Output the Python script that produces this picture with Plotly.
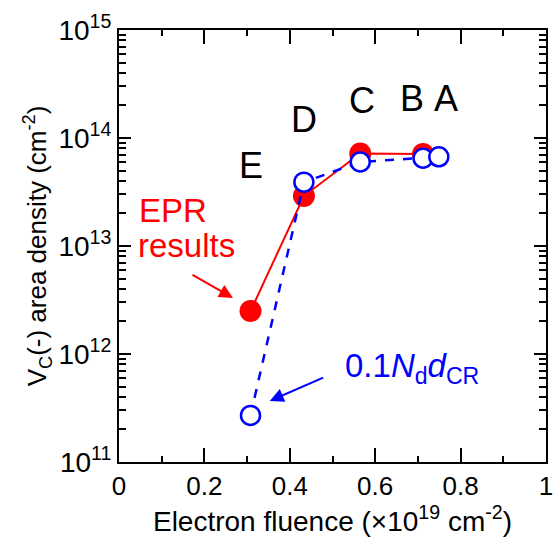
import plotly.graph_objects as go

# Data
epr_x = [0.308, 0.433, 0.565, 0.712]
epr_y = [2.5e12, 2.9e13, 7.2e13, 7.1e13]

calc_x = [0.308, 0.433, 0.565, 0.712, 0.749]
calc_y = [2.7e11, 3.9e13, 6.0e13, 6.5e13, 6.7e13]

point_labels = ["E", "D", "C", "B", "A"]
label_x = [0.309, 0.433, 0.569, 0.687, 0.765]
label_logy = [13.75, 14.17, 14.35, 14.37, 14.37]

x_tickvals = [0, 0.2, 0.4, 0.6, 0.8, 1.0]
x_ticktext = ["0", "0.2", "0.4", "0.6", "0.8", "1"]
y_tickvals = [1e11, 1e12, 1e13, 1e14, 1e15]
y_ticktext = ["10<sup>11</sup>", "10<sup>12</sup>", "10<sup>13</sup>", "10<sup>14</sup>", "10<sup>15</sup>"]
y_minor = [m * 10 ** e for e in range(11, 15) for m in range(2, 10)]

FONT = "Arial, Liberation Sans, sans-serif"
RED = "#ff0000"
BLUE = "#0000ff"

fig = go.Figure()
fig.add_trace(go.Scatter(
    x=epr_x, y=epr_y, mode="lines+markers",
    line=dict(color=RED, width=2),
    marker=dict(size=22, color=RED, line=dict(width=0)),
    showlegend=False, cliponaxis=False))
fig.add_trace(go.Scatter(
    x=calc_x, y=calc_y, mode="lines+markers",
    line=dict(color=BLUE, width=2.5, dash="dash"),
    marker=dict(size=19, color="white", line=dict(color=BLUE, width=2.5)),
    showlegend=False, cliponaxis=False))

annotations = []
for t, lx, ly in zip(point_labels, label_x, label_logy):
    annotations.append(dict(x=lx, y=ly, xref="x", yref="y", text=t, showarrow=False,
                            font=dict(family=FONT, size=36, color="black"),
                            xanchor="center", yanchor="middle"))

annotations += [
    dict(x=0.041, y=15 - (210 - 30) / 108, xref="x", yref="y", text="EPR", showarrow=False,
         font=dict(family=FONT, size=33, color=RED), xanchor="left", yanchor="middle"),
    dict(x=0.039, y=15 - (245 - 30) / 108, xref="x", yref="y", text="results", showarrow=False,
         font=dict(family=FONT, size=33, color=RED), xanchor="left", yanchor="middle"),
    dict(x=0.267, y=12.519, xref="x", yref="y", ax=-42, ay=-24, text="", showarrow=True,
         arrowhead=2, arrowsize=1.4, arrowwidth=2, arrowcolor=RED),
    dict(x=0.525, y=11.87, xref="x", yref="y",
         text="0.1<i>N</i><sub>d</sub><i>d</i><sub>CR</sub>", showarrow=False,
         font=dict(family=FONT, size=33, color=BLUE), xanchor="left", yanchor="middle"),
    dict(x=0.353, y=11.565, xref="x", yref="y", ax=55, ay=-24, text="", showarrow=True,
         arrowhead=2, arrowsize=1.4, arrowwidth=2, arrowcolor=BLUE),
]

fig.update_layout(
    width=555, height=541,
    margin=dict(l=119, r=2, t=30, b=79),
    paper_bgcolor="white", plot_bgcolor="white",
    font=dict(family=FONT, color="black", size=26),
    annotations=annotations,
    xaxis=dict(
        range=[0, 1], tickvals=x_tickvals, ticktext=x_ticktext,
        ticks="inside", ticklen=14, tickwidth=2, tickcolor="black",
        minor=dict(dtick=0.1, tick0=0, ticks="inside", ticklen=6, tickwidth=2, tickcolor="black"),
        showline=True, linewidth=2, linecolor="black", mirror="ticks",
        showgrid=False, zeroline=False, ticklabeloverflow="allow",
        tickfont=dict(size=26),
        title=dict(text="Electron fluence (×10<sup>19</sup> cm<sup>-2</sup>)",
                   font=dict(size=28), standoff=2),
    ),
    yaxis=dict(
        type="log", range=[11, 15], tickvals=y_tickvals, ticktext=y_ticktext,
        ticks="inside", ticklen=12, tickwidth=2, tickcolor="black",
        minor=dict(tickvals=y_minor, ticks="inside", ticklen=7, tickwidth=2, tickcolor="black"),
        showline=True, linewidth=2, linecolor="black", mirror="ticks",
        showgrid=False, zeroline=False, ticklabeloverflow="allow",
        tickfont=dict(size=28),
        title=dict(text="V<sub>C</sub>(-) area density (cm<sup>-2</sup>)",
                   font=dict(size=26), standoff=4),
    ),
)

fig.write_html("out.html", config={"displayModeBar": False},
               post_script="document.body.style.margin='0';document.body.style.overflow='hidden';")
